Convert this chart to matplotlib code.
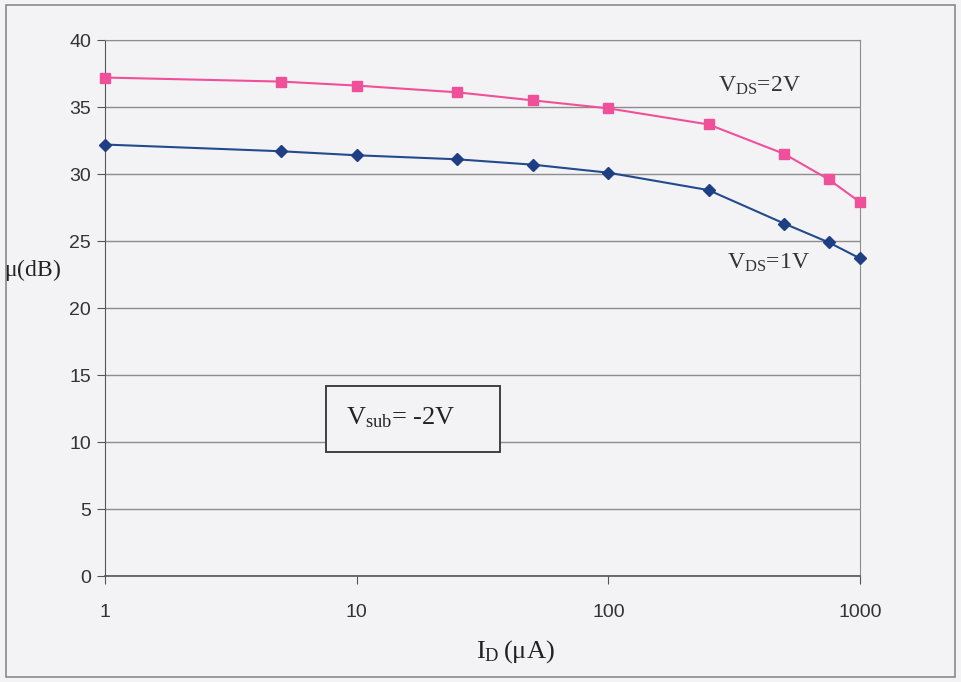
import matplotlib.pyplot as plt
from matplotlib.patches import Rectangle

# drain current (uA) and intrinsic gain (dB)
id_ua = [1, 5, 10, 25, 50, 100, 250, 500, 750, 1000]
mu_vds2 = [37.2, 36.9, 36.6, 36.1, 35.5, 34.9, 33.7, 31.5, 29.6, 27.9]
mu_vds1 = [32.2, 31.7, 31.4, 31.1, 30.7, 30.1, 28.8, 26.3, 24.9, 23.7]

yticks = [0, 5, 10, 15, 20, 25, 30, 35, 40]
xticks = [1, 10, 100, 1000]
xticklabels = ["1", "10", "100", "1000"]

bg = "#f3f3f5"
fig = plt.figure(figsize=(9.61, 6.82), dpi=100, facecolor=bg)
ax = fig.add_axes([0.1093, 0.1554, 0.7857, 0.7859])
ax.set_facecolor(bg)

# outer frame
fig.patches.append(Rectangle((0.006, 0.008), 0.988, 0.985, transform=fig.transFigure,
                             fill=False, edgecolor="#8a8a8a", linewidth=1.2))

ax.plot(id_ua, mu_vds2, color="#f0509a", marker="s", markersize=7,
        markerfacecolor="#f0509a", markeredgecolor="#f0509a", linewidth=1.5, clip_on=False, zorder=3)
ax.plot(id_ua, mu_vds1, color="#234a8c", marker="D", markersize=6,
        markerfacecolor="#1f3f85", markeredgecolor="#1f3f85", linewidth=1.5, clip_on=False, zorder=3)

ax.set_xscale("log")
ax.set_xlim(1, 1000)
ax.set_ylim(0, 40)
ax.set_yticks(yticks)
ax.set_xticks(xticks)
ax.set_xticklabels(xticklabels)
ax.minorticks_off()
ax.grid(axis="y", color="#8c8c8c", linewidth=1.0)

for s in ["top", "right"]:
    ax.spines[s].set_color("#8c8c8c")
for s in ["left", "bottom"]:
    ax.spines[s].set_color("#555555")
ax.spines["bottom"].set_linewidth(1.2)

ax.tick_params(axis="y", length=6, color="#555555", labelsize=14, labelcolor="#333333", pad=4)
ax.tick_params(axis="x", length=6, color="#555555", labelsize=14, labelcolor="#333333", pad=14)
for lbl in ax.get_xticklabels() + ax.get_yticklabels():
    lbl.set_family("Liberation Sans")

serif = "Liberation Serif"
fig.text(0.004, 0.604, r"$\mathregular{\mu(dB)}$", fontsize=17, family=serif, color="#222222",
         ha="left", va="center")
fig.text(0.536, 0.044, r"$\mathregular{I_D\,(\mu A)}$", fontsize=19, family=serif, color="#222222",
         ha="center", va="center")

ax.text(272, 36.6, r"$\mathregular{V_{DS}}$=2V", fontsize=17, family=serif, color="#333333",
        ha="left", va="center")
ax.text(296, 23.4, r"$\mathregular{V_{DS}}$=1V", fontsize=17, family=serif, color="#333333",
        ha="left", va="center")

# substrate bias note in a framed box
ax.add_patch(Rectangle((0.2927, 0.2313), 0.2303, 0.1232, transform=ax.transAxes,
                       facecolor=bg, edgecolor="#333333", linewidth=1.3, zorder=4))
ax.text(9.1, 11.8, r"$\mathregular{V_{sub}}$= -2V", fontsize=19, family=serif, color="#222222",
        ha="left", va="center", zorder=5)

fig.savefig("out.png", dpi=100, facecolor=bg)
